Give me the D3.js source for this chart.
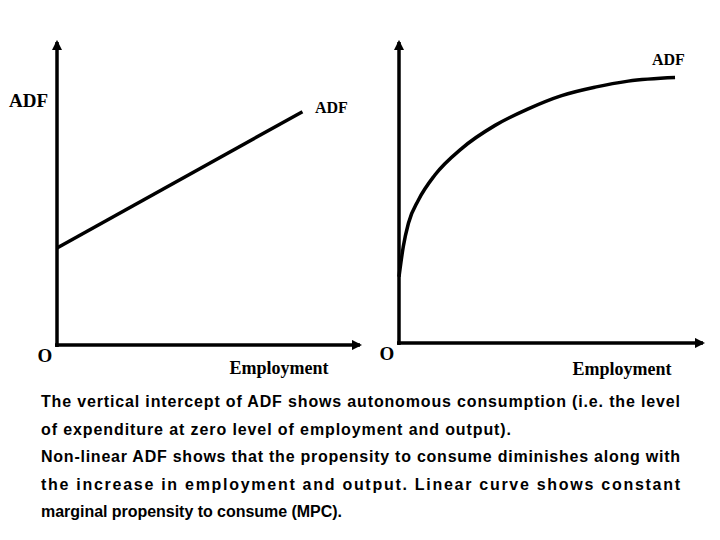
<!DOCTYPE html>
<html>
<head>
<meta charset="utf-8">
<script src="https://cdn.jsdelivr.net/npm/d3@7"></script>
<style>
  body { margin: 0; background: #fff; }
  svg { display: block; }
  .lbl { font-family: "Liberation Serif", "Times New Roman", serif; font-weight: bold; fill: #000; }
  .note { font-family: "Liberation Sans Narrow", "Liberation Sans", Arial, sans-serif; font-weight: bold; fill: #000; }
</style>
</head>
<body>
<svg id="chart" width="720" height="540"></svg>
<script>
// Linear ADF (left panel): employment vs aggregate demand
const linearEmployment = [0, 81];
const linearADF = [32, 77];

// Non-linear ADF (right panel)
const curveEmployment = [0, 1.4, 3.1, 6.4, 11.8, 20.6, 31.6, 42.5, 53.5, 64.5, 75.4, 90.8];
const curveADF = [22, 32, 39.8, 47.5, 55.8, 64.6, 72.3, 77.8, 82.2, 85, 87, 88.2];

const axisLabels = { x: 'Employment', y: 'ADF', origin: 'O' };

const noteLines = [
  'The vertical intercept of ADF shows autonomous consumption (i.e. the level',
  'of expenditure at zero level of employment and output).',
  'Non-linear ADF shows that the propensity to consume diminishes along with',
  'the increase in employment and output. Linear curve shows constant',
  'marginal propensity to consume (MPC).'
];
// rendered width of each line in the original (justified lines fill the column)
const noteWidths = [639, 470, 639, 639, 301];

const svg = d3.select('#chart');

// arrow head marker
svg.append('defs').append('marker')
  .attr('id', 'arrow')
  .attr('viewBox', '0 0 10 10')
  .attr('refX', 8).attr('refY', 5)
  .attr('markerWidth', 3).attr('markerHeight', 3)
  .attr('markerUnits', 'strokeWidth')
  .attr('orient', 'auto')
  .append('path')
  .attr('d', 'M0,0 L10,5 L0,10 z')
  .attr('fill', '#000');

function drawPanel(opts) {
  const x = d3.scaleLinear().domain([0, 100]).range([opts.x0, opts.x1]);
  const y = d3.scaleLinear().domain([0, 100]).range([opts.y0, opts.y1]);
  const g = svg.append('g');

  // axes
  g.append('line')
    .attr('x1', x(0)).attr('y1', y(0) + 2)
    .attr('x2', x(0)).attr('y2', y(100))
    .attr('stroke', '#000').attr('stroke-width', 3.5)
    .attr('marker-end', 'url(#arrow)');
  g.append('line')
    .attr('x1', x(0) - 2).attr('y1', y(0))
    .attr('x2', x(100)).attr('y2', y(0))
    .attr('stroke', '#000').attr('stroke-width', 3.5)
    .attr('marker-end', 'url(#arrow)');

  const pts = opts.xs.map((d, i) => [d, opts.ys[i]]);
  const line = d3.line()
    .x(d => x(d[0]))
    .y(d => y(d[1]))
    .curve(opts.curve);
  g.append('path')
    .datum(pts)
    .attr('d', line)
    .attr('fill', 'none')
    .attr('stroke', '#000')
    .attr('stroke-width', 3.5);

  g.append('text').attr('class', 'lbl')
    .attr('x', x(0) - 12).attr('y', y(0) + 17)
    .attr('font-size', 19)
    .attr('text-anchor', 'middle')
    .text(axisLabels.origin);
  g.append('text').attr('class', 'lbl')
    .attr('x', opts.empX).attr('y', y(0) + opts.empDy)
    .attr('font-size', 18)
    .attr('text-anchor', 'middle')
    .text(axisLabels.x);

  opts.adfLabels.forEach(l => {
    g.append('text').attr('class', 'lbl')
      .attr('x', l.x).attr('y', l.y)
      .attr('font-size', l.size)
      .text(axisLabels.y);
  });
}

drawPanel({
  x0: 57, x1: 360, y0: 345, y1: 42,
  xs: linearEmployment, ys: linearADF,
  curve: d3.curveLinear,
  empX: 279, empDy: 29,
  adfLabels: [{ x: 9, y: 107, size: 19 }, { x: 315, y: 113, size: 16 }]
});

drawPanel({
  x0: 399, x1: 703, y0: 343, y1: 42,
  xs: curveEmployment, ys: curveADF,
  curve: d3.curveMonotoneX,
  empX: 622, empDy: 32,
  adfLabels: [{ x: 652, y: 65, size: 16 }]
});

// explanatory note
const noteTop = 407;
const lineGap = 27.6;
svg.append('g').selectAll('text')
  .data(noteLines)
  .join('text')
  .attr('class', 'note')
  .attr('x', 41)
  .attr('y', (d, i) => noteTop + i * lineGap)
  .attr('font-size', 16)
  .attr('textLength', (d, i) => noteWidths[i])
  .attr('lengthAdjust', 'spacing')
  .text(d => d);
</script>
</body>
</html>
